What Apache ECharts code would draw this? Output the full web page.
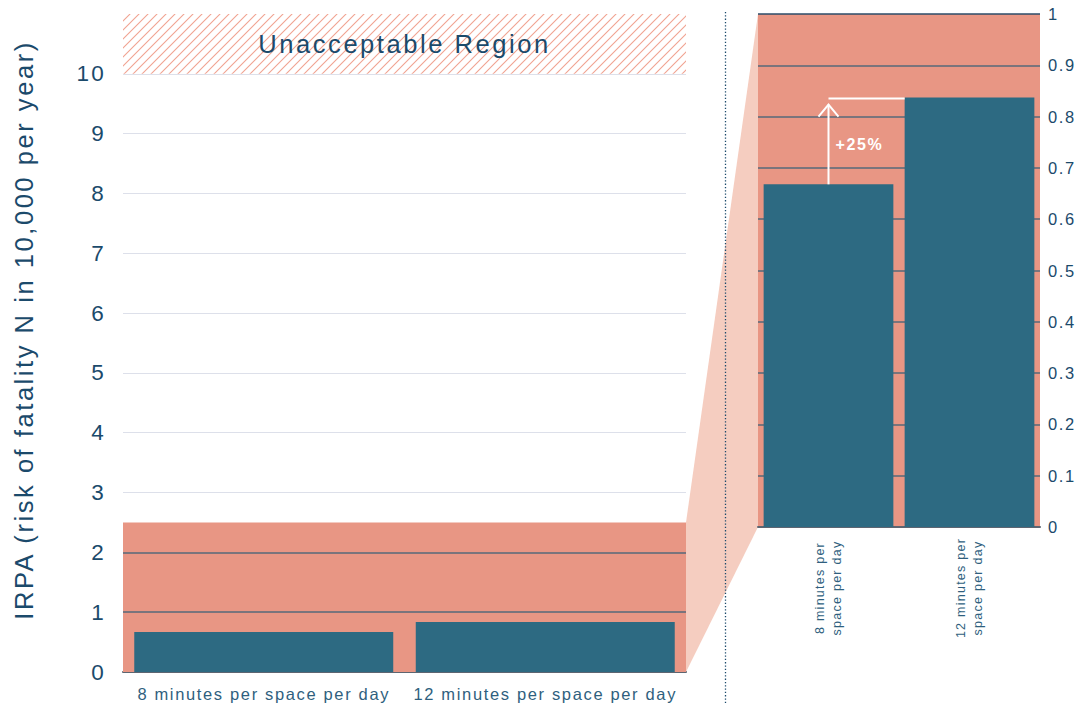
<!DOCTYPE html>
<html>
<head>
<meta charset="utf-8">
<title>IRPA by inspection time</title>
<script src="https://cdn.jsdelivr.net/npm/echarts@6.0.0/dist/echarts.min.js"></script>
<style>
  html, body { margin: 0; padding: 0; background: #ffffff; }
  #chart { width: 1081px; height: 704px; }
  /* tracked typeface look */
  #chart text { letter-spacing: 0.1em !important; }
</style>
</head>
<body>
<div id="chart"></div>
<script>
// ---- data ----
const categories = ['8 minutes per space per day', '12 minutes per space per day'];
const zoomCategories = ['8 minutes per\nspace per day', '12 minutes per\nspace per day'];
const irpa = [0.668, 0.837];                       // risk of fatality in 10,000 per year
const mainTickValues = [0, 1, 2, 3, 4, 5, 6, 7, 8, 9, 10, 11];
const mainTickLabels = ['0', '1', '2', '3', '4', '5', '6', '7', '8', '9', '10', ''];
const zoomTickValues = [0, 0.1, 0.2, 0.3, 0.4, 0.5, 0.6, 0.7, 0.8, 0.9, 1];
const zoomTickLabels = ['0', '0.1', '0.2', '0.3', '0.4', '0.5', '0.6', '0.7', '0.8', '0.9', '1'];
const unacceptableBand = [10, 11];
const tolerableBand = [0, 2.5];
const yTitle = 'IRPA (risk of fatality N in 10,000 per year)';
const unacceptableText = 'Unacceptable Region';

// ---- styling ----
const FONT = '"Liberation Sans", Arial, sans-serif';
const NAVY = '#1b4a6b';
const LABEL = '#2f5f7e';
const BAR = '#2d6a82';
const SALMON = '#e89684';
const WEDGE = '#f5cdc0';
const HATCH = '#f1a391';
const GRID_LIGHT = '#dde0ea';
const GRID_DARK = '#56687a';
const GRID_TOP = '#2b4b68';
const AXIS = '#5d6571';

const W = 1081, H = 704;
const mainGrid = { left: 123, right: W - 686, top: 14, bottom: H - 672 };
const zoomGrid = { left: 758, right: W - 1040, top: 14, bottom: H - 527 };
const DIVIDER_X = 725.5;
const GAP = 0.08;

// hatch tile for the unacceptable band
function hatchTile() {
  const s = 9;
  const c = document.createElement('canvas');
  c.width = s; c.height = s;
  const g = c.getContext('2d');
  g.strokeStyle = HATCH;
  g.lineWidth = 1.1;
  g.beginPath();
  g.moveTo(0, s); g.lineTo(s, 0);
  g.moveTo(-2, 2); g.lineTo(2, -2);
  g.moveTo(s - 2, s + 2); g.lineTo(s + 2, s - 2);
  g.stroke();
  return { image: c.toDataURL(), repeat: 'repeat', imageWidth: s, imageHeight: s };
}

const mainLineColors = mainTickValues.map(v =>
  v === 0 ? AXIS : (v < tolerableBand[1] ? GRID_DARK : (v <= unacceptableBand[0] ? GRID_LIGHT : 'rgba(0,0,0,0)')));
const zoomLineColors = zoomTickValues.map((v, i) =>
  i === 0 ? AXIS : (i === zoomTickValues.length - 1 ? GRID_TOP : GRID_DARK));
// grid lines that sit inside the shaded tolerable band
const bandLines = mainTickValues.filter(v => v > tolerableBand[0] && v < tolerableBand[1]);

const chart = echarts.init(document.getElementById('chart'), null, { renderer: 'svg', width: W, height: H });

chart.setOption({
  animation: false,
  backgroundColor: '#ffffff',
  textStyle: { fontFamily: FONT },
  grid: [
    Object.assign({ containLabel: false }, mainGrid),
    Object.assign({ containLabel: false, show: true, backgroundColor: SALMON, borderWidth: 0 }, zoomGrid)
  ],
  xAxis: [
    {
      gridIndex: 0, type: 'category', data: categories,
      axisTick: { show: false },
      axisLine: { lineStyle: { color: AXIS, width: 2 } },
      axisLabel: { interval: 0, color: LABEL, fontSize: 16.5, margin: 13, fontFamily: FONT }
    },
    {
      gridIndex: 1, type: 'category', data: zoomCategories,
      axisTick: { show: false },
      axisLine: { lineStyle: { color: AXIS, width: 2 } },
      axisLabel: { interval: 0, color: LABEL, fontSize: 12.5, lineHeight: 17, rotate: 90, align: 'center', margin: 61, fontFamily: FONT }
    }
  ],
  yAxis: [
    {
      gridIndex: 0, type: 'value', min: mainTickValues[0], max: mainTickValues[mainTickValues.length - 1], interval: 1,
      axisLine: { show: false }, axisTick: { show: false },
      axisLabel: {
        color: NAVY, fontSize: 22.5, margin: 17, fontFamily: FONT,
        formatter: v => mainTickLabels[mainTickValues.indexOf(Math.round(v))] || ''
      },
      splitLine: { lineStyle: { color: mainLineColors, width: 1 } }
    },
    {
      gridIndex: 1, type: 'value', position: 'right', min: 0, max: 1, interval: 0.1,
      axisLine: { show: false }, axisTick: { show: false },
      axisLabel: {
        color: NAVY, fontSize: 16.5, margin: 8, fontFamily: FONT,
        formatter: v => zoomTickLabels[Math.round(v * 10)]
      },
      splitLine: { lineStyle: { color: zoomLineColors, width: 1.5 } }
    }
  ],
  series: [
    {
      // shaded bands
      type: 'line', xAxisIndex: 0, yAxisIndex: 0, data: [], z: -1, silent: true,
      markArea: {
        silent: true,
        data: [
          [{ yAxis: tolerableBand[0], itemStyle: { color: SALMON } }, { yAxis: tolerableBand[1] }],
          [{
            yAxis: unacceptableBand[0],
            itemStyle: { color: hatchTile() },
            label: { show: true, position: 'inside', formatter: unacceptableText, color: NAVY, fontSize: 25.5, fontFamily: FONT }
          }, { yAxis: unacceptableBand[1] }]
        ]
      }
    },
    {
      // grid lines drawn over the tolerable band
      type: 'line', xAxisIndex: 0, yAxisIndex: 0, data: [], z: 1, silent: true,
      markLine: {
        silent: true, symbol: 'none', animation: false,
        label: { show: false },
        lineStyle: { color: GRID_DARK, width: 1.5, type: 'solid' },
        data: bandLines.map(v => ({ yAxis: v }))
      }
    },
    {
      type: 'bar', xAxisIndex: 0, yAxisIndex: 0, data: irpa, z: 2,
      barCategoryGap: (GAP * 100) + '%',
      itemStyle: { color: BAR }
    },
    {
      type: 'bar', xAxisIndex: 1, yAxisIndex: 1, data: irpa, z: 2,
      barCategoryGap: (GAP * 100) + '%',
      itemStyle: { color: BAR }
    }
  ]
});

// connector wedge, divider, increase arrow and axis title
const lx = W - mainGrid.right;
const rx = zoomGrid.left;
const leftTop = chart.convertToPixel({ yAxisIndex: 0 }, tolerableBand[1]);
const leftBottom = chart.convertToPixel({ yAxisIndex: 0 }, tolerableBand[0]);
const rightTop = chart.convertToPixel({ yAxisIndex: 1 }, 1);
const rightBottom = chart.convertToPixel({ yAxisIndex: 1 }, 0);

const p0 = chart.convertToPixel({ gridIndex: 1 }, [0, irpa[0]]);
const p1 = chart.convertToPixel({ gridIndex: 1 }, [1, irpa[1]]);
const catW = p1[0] - p0[0];
const barLeft1 = p1[0] - catW * (1 - GAP) / 2;
const tipY = p1[1] + 7;
const pct = Math.round((irpa[1] / irpa[0] - 1) * 100);

chart.setOption({
  graphic: [
    {
      type: 'polygon', z: 0, silent: true,
      shape: { points: [[lx, leftTop], [rx, rightTop], [rx, rightBottom], [lx, leftBottom]] },
      style: { fill: WEDGE }
    },
    {
      type: 'line', z: 5, silent: true,
      shape: { x1: DIVIDER_X, y1: 12, x2: DIVIDER_X, y2: H },
      style: { stroke: NAVY, lineWidth: 1.3, lineDash: [1.3, 2] }
    },
    {
      type: 'line', z: 10, silent: true,
      shape: { x1: p0[0], y1: p0[1], x2: p0[0], y2: tipY },
      style: { stroke: '#ffffff', lineWidth: 2 }
    },
    {
      type: 'polyline', z: 10, silent: true,
      shape: { points: [[p0[0] - 10, tipY + 12], [p0[0], tipY], [p0[0] + 10, tipY + 12]] },
      style: { stroke: '#ffffff', lineWidth: 2, fill: null }
    },
    {
      type: 'line', z: 10, silent: true,
      shape: { x1: p0[0], y1: p1[1] + 1, x2: barLeft1, y2: p1[1] + 1 },
      style: { stroke: '#ffffff', lineWidth: 2 }
    },
    {
      type: 'text', z: 10, silent: true,
      x: p0[0] + 7, y: (p0[1] + tipY) / 2,
      style: {
        text: '+' + pct + '%', fill: '#ffffff', font: 'bold 16px ' + FONT,
        align: 'left', verticalAlign: 'middle', textAlign: 'left', textVerticalAlign: 'middle'
      }
    },
    {
      type: 'text', z: 10, silent: true,
      x: 24, y: 330, rotation: Math.PI / 2,
      style: {
        text: yTitle, fill: NAVY, font: '25.5px ' + FONT,
        align: 'center', verticalAlign: 'middle', textAlign: 'center', textVerticalAlign: 'middle'
      }
    }
  ]
});
</script>
</body>
</html>
